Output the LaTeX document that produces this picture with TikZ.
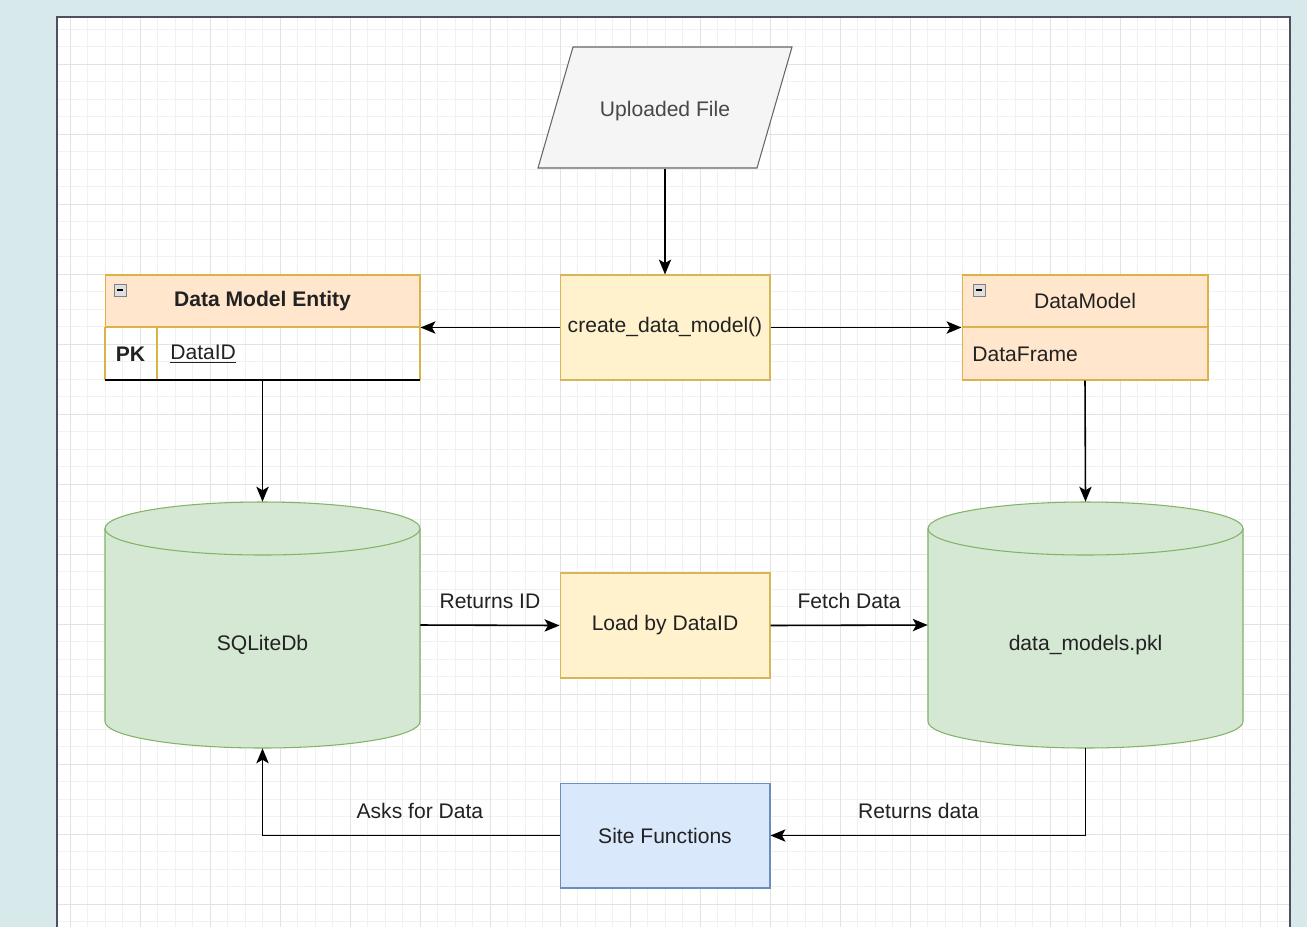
\documentclass[tikz,border=0pt]{standalone}
\usepackage{fontspec}
\setmainfont{Liberation Sans}
\usetikzlibrary{arrows.meta}

\definecolor{backblue}{HTML}{D8E9EC}
\definecolor{frameline}{HTML}{4E5060}
\definecolor{minorgrid}{HTML}{F1F1F1}
\definecolor{majorgrid}{HTML}{E2E2E2}
\definecolor{yellowfill}{HTML}{FFF2CC}
\definecolor{yellowline}{HTML}{D6B656}
\definecolor{bluefill}{HTML}{DAE8FC}
\definecolor{blueline}{HTML}{6C8EBF}
\definecolor{greenfill}{HTML}{D5E8D4}
\definecolor{greenline}{HTML}{82B366}
\definecolor{peachfill}{HTML}{FFE6CC}
\definecolor{peachline}{HTML}{DDB04A}
\definecolor{greyfill}{HTML}{F5F5F5}
\definecolor{greyline}{HTML}{666666}
\definecolor{inktext}{HTML}{222222}

\tikzset{
    procbox/.style = {rectangle, draw=yellowline, fill=yellowfill, line width=0.6pt,
                      minimum width=4.2cm, minimum height=2.1cm, inner sep=0pt},
    sitebox/.style = {procbox, draw=blueline, fill=bluefill},
    headbox/.style = {rectangle, draw=peachline, fill=peachfill, line width=0.6pt,
                      minimum height=1.04cm, inner sep=0pt},
    flowline/.style = {line width=0.9pt, -{Stealth[length=8.5pt, width=7pt, inset=2pt]}},
    flowlabel/.style = {text=inktext, above=8pt, inner sep=1pt},
    anchorbox/.style = {rectangle, inner sep=0pt, text=inktext},
    dbshape/.style = {draw=greenline, fill=greenfill, line width=0.6pt},
}

\begin{document}
\begin{tikzpicture}[x=0.02cm, y=-0.02cm, font=\fontsize{12}{14}\selectfont, text=inktext]
    \useasboundingbox (0, 0) rectangle (1307, 927);

    % draw background and canvas
    \fill[backblue] (0, 0) rectangle (1307, 927);
    \fill[white] (57, 17) rectangle (1290, 927);

    % draw grid
    \foreach \i in {4, ..., 73}
        \draw[minorgrid, line width=0.4pt] ({\i * 17.5}, 17) -- ({\i * 17.5}, 927);
    \foreach \j in {2, ..., 53}
        \draw[minorgrid, line width=0.4pt] (57, {\j * 17.5 - 6}) -- (1290, {\j * 17.5 - 6});
    \foreach \i in {1, ..., 18}
        \draw[majorgrid, line width=0.5pt] ({\i * 70}, 17) -- ({\i * 70}, 927);
    \foreach \j in {1, ..., 13}
        \draw[majorgrid, line width=0.5pt] (57, {\j * 70 - 6}) -- (1290, {\j * 70 - 6});

    % draw canvas frame
    \draw[frameline, line width=1.2pt] (57, 927) -- (57, 17) -- (1290, 17) -- (1290, 927);

    % draw uploaded file
    \filldraw[draw=greyline, fill=greyfill, line width=0.6pt]
        (573, 47) -- (792, 47) -- (757, 168) -- (538, 168) -- cycle;
    \node[anchorbox, minimum width=4.4cm, minimum height=2.3cm, text=greyline!70!black] (upload) at (665, 111) {Uploaded File};

    % draw process boxes
    \node[procbox] (create) at (665, 327.5) {create\_data\_model()};
    \node[procbox] (load) at (665, 625.5) {Load by DataID};
    \node[sitebox] (site) at (665, 835.5) {Site Functions};

    % draw data model entity
    \node[headbox, minimum width=6.3cm, font=\fontsize{12}{14}\selectfont\bfseries] (entityhead) at (262.5, 301) {Data Model Entity};
    \draw[peachline, line width=0.6pt] (105, 327) -- (105, 380);
    \draw[peachline, line width=0.6pt] (420, 327) -- (420, 380);
    \draw[peachline, line width=0.6pt] (157, 327) -- (157, 380);
    \draw[black, line width=0.8pt] (105, 380) -- (420, 380);
    \node[anchorbox, minimum width=6.3cm, minimum height=1.06cm] (entityrow) at (262.5, 353.5) {};
    \node[anchorbox, font=\fontsize{12}{14}\selectfont\bfseries] (pkkey) at (130.5, 354) {PK};
    \node[anchorbox, anchor=west] (dataid) at (170, 354) {\underline{DataID}};

    % draw data model class
    \node[headbox, minimum width=4.92cm] (modelhead) at (1085, 301) {DataModel};
    \node[headbox, minimum width=4.92cm, minimum height=1.06cm] (modelrow) at (1085, 353.5) {};
    \node[anchorbox, anchor=west] (frame) at (972, 354) {DataFrame};

    % draw collapse icons
    \foreach \ix in {114, 973} {
        \filldraw[draw=gray, fill=gray!25, line width=0.4pt] (\ix, 284) rectangle ({\ix + 12}, 296);
        \draw[black, line width=0.8pt] ({\ix + 3}, 290) -- ({\ix + 9}, 290);
    }

    % draw databases
    \foreach \cx in {262.5, 1085.5} {
        \filldraw[dbshape] ({\cx - 157.5}, 528.5) -- ({\cx - 157.5}, 721.5)
            arc[start angle=180, end angle=0, x radius=157.5, y radius=26.5]
            -- ({\cx + 157.5}, 528.5)
            arc[start angle=360, end angle=180, x radius=157.5, y radius=26.5] -- cycle;
        \draw[greenline, line width=0.6pt] ({\cx - 157.5}, 528.5)
            arc[start angle=180, end angle=0, x radius=157.5, y radius=26.5];
    }
    \node[anchorbox, minimum width=6.3cm, minimum height=4.92cm] (sqlite) at (262.5, 625) {\raisebox{-1.1cm}{SQLiteDb}};
    \node[anchorbox, minimum width=6.3cm, minimum height=4.92cm] (pickle) at (1085.5, 625) {\raisebox{-1.1cm}{data\_models.pkl}};

    % draw connectors
    \draw[flowline] (upload.south) -- (create.north);
    \draw[flowline] (create.west) -- (create.west -| entityhead.east);
    \draw[flowline] (create.east) -- (create.east -| modelhead.west);
    \draw[flowline] (entityrow.south) -- (sqlite.north);
    \draw[flowline] (modelrow.south) -- (pickle.north);
    \draw[flowline] (sqlite.east) -- node[flowlabel] (retid) {Returns ID} (load.west);
    \draw[flowline] (load.east) -- node[flowlabel] (fetch) {Fetch Data} (pickle.west);
    \draw[flowline] (pickle.south) |- node[flowlabel, pos=0.765] (retdata) {Returns data} (site.east);
    \draw[flowline] (site.west) -| node[flowlabel, pos=0.235] (asks) {Asks for Data} (sqlite.south);

\end{tikzpicture}
\end{document}
